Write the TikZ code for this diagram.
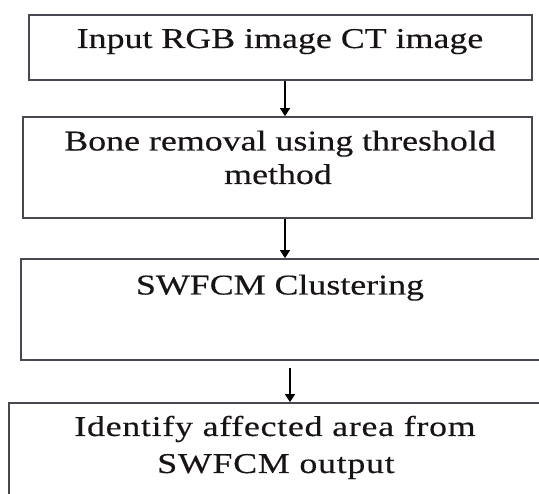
\documentclass[tikz,border=0pt]{standalone}
\usepackage{fontspec}
\setmainfont{Liberation Serif}[FakeStretch=1.25,FakeBold=0.35]
\newfontfamily\spacedfont{Liberation Serif}[FakeStretch=1.25,FakeBold=0.35,LetterSpace=2.5]
\usetikzlibrary{fit,arrows.meta}
\definecolor{boxline}{RGB}{72,72,82}
\definecolor{txtcol}{RGB}{25,20,20}
\begin{document}
\begin{tikzpicture}[x=1pt,y=-1pt,
  box/.style={draw=boxline,line width=1.7pt,inner sep=0pt,fill=white},
  txt/.style={anchor=base,inner sep=0pt,text=txtcol,font=\fontsize{28.7}{34}\selectfont},
  flow/.style={draw=black,line width=1.3pt,-{Triangle[length=8pt,width=10pt]}}]
\useasboundingbox (0,0) rectangle (539,494);
\clip (0,0) rectangle (539,494);
\fill[white] (0,0) rectangle (539,494);
% boxes
\node[box,fit={(29,15)(532,80)}] (b1) {};
\node[box,fit={(23,117)(532,218)}] (b2) {};
\node[box,fit={(21,259)(548,360)}] (b3) {};
\node[box,fit={(9,403)(548,505)}] (b4) {};
% texts
\node[txt] (t1) at (280,48) {Input RGB image CT image};
\node[txt] (t2a) at (280,150.5) {Bone removal using threshold};
\node[txt] (t2b) at (278,184) {method};
\node[txt] (t3) at (280,294.5) {SWFCM Clustering};
\node[txt,font=\spacedfont\fontsize{28.7}{34}\selectfont] (t4a) at (275,436) {Identify affected area from};
\node[txt,font=\spacedfont\fontsize{28.7}{34}\selectfont] (t4b) at (276,473) {SWFCM output};
% connectors
\coordinate (a3s) at (290,368);
\draw[flow] (b1.south -| 285,0) -- (b2.north -| 285,0);
\draw[flow] (b2.south -| 285,0) -- (b3.north -| 285,0);
\draw[flow] (a3s) -- (b4.north -| a3s);
\end{tikzpicture}
\end{document}
